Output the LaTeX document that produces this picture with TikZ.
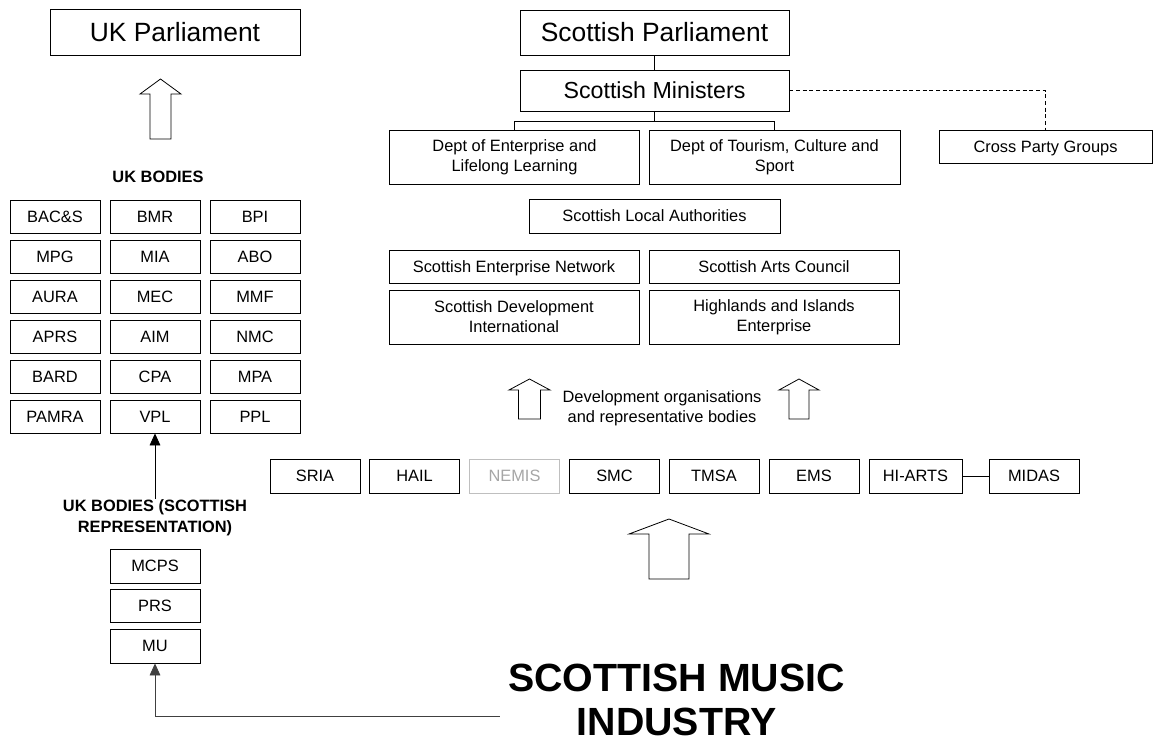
\documentclass[tikz,border=0pt]{standalone}
\usepackage{fontspec}
\setmainfont{Liberation Sans}
\usetikzlibrary{arrows.meta}

\newlength{\px}
\setlength{\px}{0.75pt}

% hollow block arrow: x, y bottom, y head base, y tip, shaft half width, head half width
\newcommand{\blockup}[6]{%
  \draw[hollow] (#1-#5,#2) -- (#1-#5,#3) -- (#1-#6,#3) -- (#1,#4)
    -- (#1+#6,#3) -- (#1+#5,#3) -- (#1+#5,#2) -- cycle;}

\tikzset{
  orgbox/.style={draw, line width=0.6pt, inner sep=0pt, align=center,
    minimum width=90\px, minimum height=34\px,
    text height=10.6pt, text depth=2.1pt,
    font=\fontsize{12.3}{15}\selectfont},
  widebox/.style={orgbox, minimum width=250\px},
  tallbox/.style={widebox, minimum height=54\px, text height={}, text depth={}},
  bigbox/.style={orgbox, text height={}, text depth={}, font=\fontsize{19.8}{24}\selectfont},
  greybox/.style={orgbox, draw=black!25, text=black!35},
  heading/.style={align=center, inner sep=0pt, font=\bfseries\fontsize{12.3}{15.75}\selectfont},
  link/.style={line width=0.6pt, -{Triangle[length=9pt,width=8pt]}},
  hollow/.style={draw, line width=0.6pt, fill=white},
  tie/.style={line width=0.6pt},
}

\begin{document}
\begin{tikzpicture}[x=0.75pt, y=-0.75pt]
    \useasboundingbox (0,0) rectangle (1154,744);

    % UK side
    \node[bigbox, minimum width=250\px, minimum height=46\px] (ukparl) at (175,32) {UK Parliament};
    \blockup{160.5}{139}{94}{79}{10.5}{20.5}
    \node[heading] (ukbodies) at (158,177) {UK BODIES};

    % UK bodies grid
    \foreach \a/\b/\c [count=\r] in {BAC\&S/BMR/BPI, MPG/MIA/ABO, AURA/MEC/MMF,
        APRS/AIM/NMC, BARD/CPA/MPA, PAMRA/VPL/PPL} {
        \node[orgbox, minimum height=33\px] (uk-\r-1) at (55,{176.5+40*\r}) {\a};
        \node[orgbox, minimum height=33\px] (uk-\r-2) at (155,{176.5+40*\r}) {\b};
        \node[orgbox, minimum height=33\px] (uk-\r-3) at (255,{176.5+40*\r}) {\c};
    }

    % Scottish representation
    \node[heading] (ukscot) at (155,517.5) {UK BODIES (SCOTTISH\\REPRESENTATION)};
    \draw[link] (ukscot.north) -- (uk-6-2.south);
    \node[orgbox] (mcps) at (155,566) {MCPS};
    \node[orgbox, minimum height=33\px] (prs) at (155,605.5) {PRS};
    \node[orgbox] (mu) at (155,646) {MU};

    % Scottish side
    \node[bigbox, minimum width=269\px, minimum height=45\px] (scotparl) at (654.5,32.5) {Scottish Parliament};
    \node[bigbox, minimum width=269\px, minimum height=41\px,
        font=\fontsize{17.4}{21}\selectfont] (ministers) at (654.5,90.5) {Scottish Ministers};
    \draw[tie] (scotparl) -- (ministers);

    \node[tallbox] (deptel) at (514.5,157) {Dept of Enterprise and\\Lifelong Learning\vphantom{p}};
    \node[tallbox, minimum width=251\px] (depttcs) at (774.5,157) {Dept of Tourism, Culture and\\Sport};
    \draw[tie] (ministers.south) -- ++(0,10) coordinate (fork);
    \draw[tie] (fork) -| (deptel.north);
    \draw[tie] (fork) -| (depttcs.north);

    \node[orgbox, minimum width=213\px, minimum height=33\px] (crossparty) at (1045.5,146.5) {Cross Party Groups};
    \draw[tie, dash pattern=on 3pt off 2pt] (ministers.east) -| (crossparty.north);

    \node[widebox, minimum width=251\px] (localauth) at (654.5,216) {Scottish Local Authorities};
    \node[widebox, minimum height=33\px] (sen) at (514,266.5) {Scottish Enterprise Network};
    \node[widebox, minimum height=33\px] (sac) at (774,266.5) {Scottish Arts Council};
    \node[tallbox] (sdi) at (514,317) {Scottish Development\\International};
    \node[tallbox] (hie) at (774,317) {Highlands and Islands\\Enterprise};

    % Development organisations
    \blockup{529.5}{419}{390}{379}{11}{20.5}
    \blockup{799}{419}{390}{379}{10}{20}
    \node[align=center, font=\fontsize{12.3}{15}\selectfont] (devorgs) at (662,408)
        {Development organisations\\and representative bodies};

    \node[orgbox] (sria) at (315,476) {SRIA};
    \node[orgbox] (hail) at (414.5,476) {HAIL};
    \node[greybox] (nemis) at (514.5,476) {NEMIS};
    \node[orgbox] (smc) at (614.5,476) {SMC};
    \node[orgbox] (tmsa) at (714,476) {TMSA};
    \node[orgbox] (ems) at (814,476) {EMS};
    \node[orgbox, minimum width=93\px] (hiarts) at (915.5,476) {HI-ARTS};
    \node[orgbox] (midas) at (1034,476) {MIDAS};
    \draw[tie] (hiarts) -- (midas);

    \blockup{669}{579}{534}{519}{20}{40}

    % Industry
    \node[align=center, inner sep=8\px, font=\bfseries\fontsize{29.5}{32.5}\selectfont] (industry) at (676.5,700)
        {SCOTTISH MUSIC\\INDUSTRY};
    \draw[link, draw=black!75] ([yshift=-12pt]industry.west) -| (mu.south);
\end{tikzpicture}
\end{document}
